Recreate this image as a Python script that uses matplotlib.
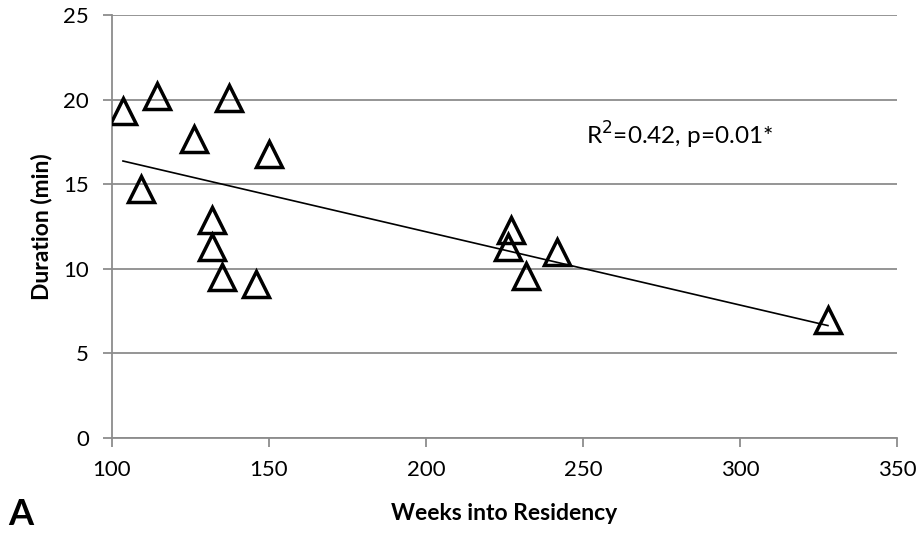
import numpy as np
import matplotlib
matplotlib.use("Agg")
import matplotlib.pyplot as plt

plt.rcParams['font.family'] = ['Lato', 'DejaVu Sans']

# weeks into residency vs duration (min)
weeks = [103.5, 114.3, 109.2, 126.1, 137.3, 150.0, 131.8, 131.8, 135.0, 145.9,
         227.0, 226.0, 231.8, 241.7, 328.0]
duration = [19.3, 20.2, 14.7, 17.7, 20.1, 16.8, 12.9, 11.3, 9.5, 9.1,
            12.3, 11.3, 9.6, 11.0, 7.0]
xticks = [100, 150, 200, 250, 300, 350]
yticks = [0, 5, 10, 15, 20, 25]
stat_text = "R$^2$=0.42, p=0.01*"

grid_col = '#8c8c8c'

fig = plt.figure(figsize=(9.24, 5.33), dpi=100)
ax = fig.add_axes([0.1212, 0.1782, 0.8496, 0.7937])

# linear trend line over the range of the data
slope, icpt = np.polyfit(weeks, duration, 1)
xl = np.array([min(weeks), max(weeks)])
ax.plot(xl, slope * xl + icpt, color='black', lw=1.2, zorder=2)

ax.plot(weeks, duration, linestyle='none', marker='^', ms=19, mfc='none',
        mec='black', mew=2.5, zorder=3)

ax.set_xlim(100, 350)
ax.set_ylim(0, 25)
ax.set_xticks(xticks)
ax.set_yticks(yticks)
ax.yaxis.grid(True, color=grid_col, lw=1.3)
ax.set_axisbelow(True)
for s in ['top', 'right']:
    ax.spines[s].set_visible(False)
for s in ['left', 'bottom']:
    ax.spines[s].set_color(grid_col)
    ax.spines[s].set_linewidth(1.3)
ax.tick_params(axis='both', colors=grid_col, length=6.5, width=1.3,
               labelcolor='black', labelsize=16)
ax.tick_params(axis='x', pad=9)
ax.tick_params(axis='y', pad=10)

ax.set_xlabel("Weeks into Residency", fontsize=16.5, fontweight='bold', labelpad=17)
ax.set_ylabel("Duration (min)", fontsize=16.5, fontweight='bold', labelpad=8)

ax.text(280.6, 17.9, stat_text, fontsize=17.5, ha='center', va='center')

fig.text(0.009, 0.004, "A", fontsize=26, fontweight='bold', ha='left', va='bottom')

fig.savefig('out.png', dpi=100)
